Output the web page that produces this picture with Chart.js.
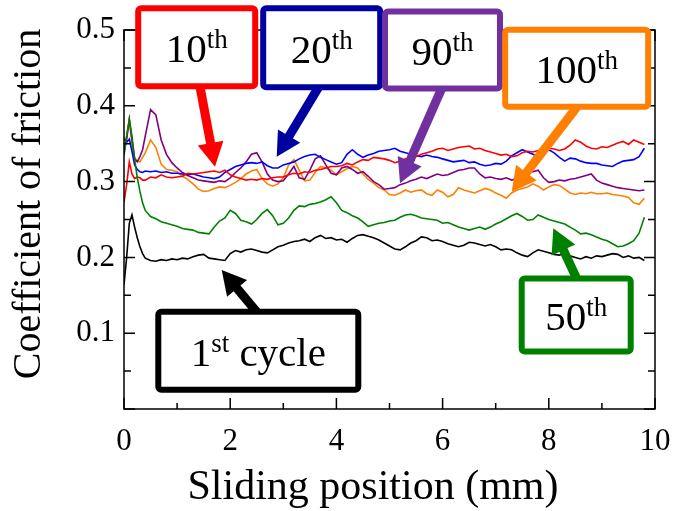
<!DOCTYPE html>
<html>
<head>
<meta charset="utf-8">
<script src="https://cdn.jsdelivr.net/npm/chart.js@4.4.1/dist/chart.umd.min.js"></script>
<style>
  html, body { margin: 0; padding: 0; background: #fff; }
  #wrap { width: 673px; height: 511px; position: relative; }
</style>
</head>
<body>
<div id="wrap"><canvas id="frictionChart"></canvas></div>
<script>
// Sliding positions (mm), shared by every cycle
const positions = [0, 0.05, 0.1, 0.15, 0.2, 0.25, 0.3, 0.35, 0.4,
    0.5, 0.6, 0.7, 0.8, 0.9,
    1.0, 1.1, 1.2, 1.3, 1.4, 1.5, 1.6, 1.7, 1.8, 1.9,
    2.0, 2.1, 2.2, 2.3, 2.4, 2.5, 2.6, 2.7, 2.8, 2.9,
    3.0, 3.1, 3.2, 3.3, 3.4, 3.5, 3.6, 3.7, 3.8, 3.9,
    4.0, 4.1, 4.2, 4.3, 4.4, 4.5, 4.6, 4.7, 4.8, 4.9,
    5.0, 5.1, 5.2, 5.3, 5.4, 5.5, 5.6, 5.7, 5.8, 5.9,
    6.0, 6.1, 6.2, 6.3, 6.4, 6.5, 6.6, 6.7, 6.8, 6.9,
    7.0, 7.1, 7.2, 7.3, 7.4, 7.5, 7.6, 7.7, 7.8, 7.9,
    8.0, 8.1, 8.2, 8.3, 8.4, 8.5, 8.6, 8.7, 8.8, 8.9,
    9.0, 9.1, 9.2, 9.3, 9.4, 9.5, 9.6, 9.7, 9.8];

// Coefficient of friction per cycle
const cycle1 = [0.164, 0.2, 0.245, 0.256, 0.24, 0.226, 0.214, 0.205, 0.199,
    0.196, 0.195, 0.197, 0.196, 0.198,
    0.197, 0.199, 0.198, 0.201, 0.203, 0.204, 0.199, 0.198, 0.197, 0.196,
    0.205, 0.209, 0.207, 0.21, 0.211, 0.209, 0.207, 0.206, 0.21, 0.214,
    0.216, 0.219, 0.221, 0.222, 0.224, 0.221, 0.226, 0.229, 0.225, 0.226,
    0.223, 0.224, 0.22, 0.225, 0.229, 0.23, 0.228, 0.226, 0.223, 0.219,
    0.215, 0.211, 0.21, 0.214, 0.219, 0.222, 0.227, 0.226, 0.222, 0.223,
    0.221, 0.218, 0.216, 0.214, 0.216, 0.22, 0.219, 0.217, 0.215, 0.217,
    0.214, 0.21, 0.211, 0.21, 0.206, 0.203, 0.201, 0.206, 0.21, 0.208,
    0.206, 0.204, 0.203, 0.206, 0.202, 0.2, 0.198, 0.201, 0.199, 0.202,
    0.201, 0.203, 0.205, 0.204, 0.2, 0.202, 0.199, 0.2, 0.196];

const cycle10 = [0.273, 0.296, 0.326, 0.31, 0.304, 0.306, 0.305, 0.302, 0.302,
    0.306, 0.305, 0.309, 0.306, 0.305,
    0.306, 0.307, 0.311, 0.31, 0.311, 0.312, 0.313, 0.314, 0.312, 0.315,
    0.309, 0.306, 0.304, 0.302, 0.303, 0.302, 0.304, 0.303, 0.305, 0.306,
    0.306, 0.309, 0.311, 0.31, 0.313, 0.312, 0.315, 0.316, 0.318, 0.32,
    0.32, 0.321, 0.324, 0.322, 0.326, 0.329, 0.328, 0.332, 0.331, 0.33,
    0.328, 0.325, 0.327, 0.33, 0.331, 0.333, 0.336, 0.338, 0.34, 0.343,
    0.344, 0.341, 0.343, 0.345, 0.346, 0.347, 0.343, 0.344, 0.341, 0.339,
    0.337, 0.335, 0.336, 0.333, 0.334, 0.338, 0.34, 0.339, 0.341, 0.34,
    0.344, 0.343, 0.341, 0.343, 0.348, 0.355, 0.352, 0.347, 0.344, 0.343,
    0.346, 0.345, 0.348, 0.351, 0.353, 0.349, 0.355, 0.352, 0.349];

const cycle20 = [0.357, 0.352, 0.356, 0.34, 0.322, 0.316, 0.313, 0.312, 0.314,
    0.313, 0.314, 0.312, 0.313, 0.311,
    0.311, 0.31, 0.309, 0.31, 0.308, 0.306, 0.305, 0.304, 0.306, 0.312,
    0.316, 0.32, 0.322, 0.324, 0.325, 0.324, 0.326, 0.321, 0.318, 0.318,
    0.322, 0.324, 0.326, 0.33, 0.333, 0.335, 0.336, 0.332, 0.329, 0.326,
    0.323, 0.325, 0.336, 0.342, 0.336, 0.332, 0.335, 0.337, 0.34, 0.341,
    0.342, 0.344, 0.34, 0.338, 0.336, 0.334, 0.333, 0.335, 0.333, 0.332,
    0.33, 0.328, 0.326, 0.327, 0.328, 0.325, 0.326, 0.323, 0.321, 0.322,
    0.324, 0.323, 0.327, 0.334, 0.338, 0.342, 0.339, 0.336, 0.333, 0.337,
    0.342, 0.338, 0.332, 0.327, 0.331, 0.33, 0.327, 0.325, 0.324, 0.324,
    0.322, 0.321, 0.32, 0.324, 0.327, 0.328, 0.329, 0.333, 0.344];

const cycle50 = [0.335, 0.36, 0.382, 0.36, 0.33, 0.305, 0.287, 0.272, 0.262,
    0.254, 0.251, 0.247, 0.245, 0.243,
    0.241, 0.238, 0.237, 0.236, 0.233, 0.232, 0.231, 0.24, 0.248, 0.252,
    0.262, 0.258, 0.249, 0.247, 0.244, 0.25, 0.258, 0.263, 0.255, 0.243,
    0.245, 0.252, 0.262, 0.268, 0.267, 0.27, 0.271, 0.273, 0.276, 0.28,
    0.272, 0.262, 0.259, 0.255, 0.252, 0.247, 0.241, 0.243, 0.245, 0.246,
    0.248, 0.249, 0.253, 0.256, 0.257, 0.255, 0.252, 0.251, 0.25, 0.249,
    0.245, 0.246, 0.243, 0.24, 0.238, 0.236, 0.238, 0.24, 0.237, 0.24,
    0.244, 0.247, 0.251, 0.255, 0.258, 0.254, 0.249, 0.25, 0.256, 0.253,
    0.25, 0.248, 0.246, 0.244, 0.24, 0.236, 0.231, 0.232, 0.23, 0.227,
    0.224, 0.222, 0.218, 0.214, 0.215, 0.218, 0.222, 0.232, 0.253];

const cycle90 = [0.339, 0.355, 0.382, 0.355, 0.33, 0.326, 0.333, 0.342, 0.36,
    0.395, 0.388, 0.355, 0.336, 0.325,
    0.318, 0.312, 0.308, 0.305, 0.302, 0.301, 0.3, 0.299, 0.301, 0.3,
    0.305, 0.312, 0.318, 0.326, 0.336, 0.338, 0.326, 0.31, 0.302, 0.3,
    0.301, 0.31, 0.32, 0.305, 0.303, 0.315, 0.33, 0.334, 0.322, 0.311,
    0.309, 0.318, 0.32, 0.316, 0.311, 0.313, 0.307, 0.3, 0.296, 0.29,
    0.291, 0.292, 0.296, 0.298, 0.301, 0.303, 0.306, 0.304, 0.307, 0.31,
    0.308, 0.309, 0.312, 0.315, 0.316, 0.318, 0.318, 0.31, 0.305, 0.306,
    0.304, 0.303, 0.305, 0.302, 0.304, 0.31, 0.312, 0.313, 0.315, 0.305,
    0.299, 0.3, 0.302, 0.301, 0.303, 0.304, 0.306, 0.308, 0.31, 0.302,
    0.298, 0.296, 0.294, 0.292, 0.291, 0.29, 0.289, 0.288, 0.289];

const cycle100 = [0.345, 0.36, 0.382, 0.35, 0.331, 0.327, 0.326, 0.332, 0.338,
    0.355, 0.345, 0.323, 0.316, 0.315,
    0.313, 0.307, 0.303, 0.297, 0.29, 0.287, 0.288, 0.291, 0.293, 0.292,
    0.295, 0.299, 0.304, 0.31, 0.314, 0.316, 0.304, 0.297, 0.294, 0.297,
    0.305, 0.322, 0.329, 0.315, 0.301, 0.302, 0.312, 0.32, 0.318, 0.315,
    0.309, 0.313, 0.317, 0.32, 0.318, 0.31, 0.303, 0.298, 0.292, 0.289,
    0.283, 0.282, 0.285, 0.289, 0.286, 0.288, 0.289, 0.284, 0.282, 0.289,
    0.286, 0.28, 0.283, 0.292, 0.289, 0.287, 0.285, 0.288, 0.291, 0.289,
    0.285, 0.282, 0.278, 0.285, 0.289, 0.291, 0.293, 0.297, 0.294, 0.289,
    0.293, 0.296, 0.295, 0.29, 0.285, 0.283, 0.285, 0.284, 0.286, 0.284,
    0.284, 0.285, 0.283, 0.282, 0.281, 0.279, 0.272, 0.27, 0.278];

const xTicks = [0, 2, 4, 6, 8, 10];
const yTicks = [0.1, 0.2, 0.3, 0.4, 0.5];

const serif = "'Liberation Serif', 'Times New Roman', serif";

function series(values) {
    return positions.map((x, i) => ({ x: x, y: values[i] }));
}

function lineSet(label, values, color) {
    return {
        label: label,
        data: series(values),
        borderColor: color,
        borderWidth: 1.6,
        pointRadius: 0,
        tension: 0,
        fill: false
    };
}

// Callout boxes: box centre / arrow ends in data units
const callouts = [
    { text: '10', sup: 'th', tail: '', color: '#ff0000', at: [1.369, 0.4773], w: 117, h: 78, from: [1.431, 0.425], to: [1.714, 0.3197] },
    { text: '20', sup: 'th', tail: '', color: '#0000a0', at: [3.723, 0.4765], w: 117, h: 79, from: [3.659, 0.424], to: [2.876, 0.3328] },
    { text: '90', sup: 'th', tail: '', color: '#7030a0', at: [5.998, 0.4736], w: 115, h: 77, from: [5.983, 0.423], to: [5.198, 0.2978] },
    { text: '100', sup: 'th', tail: '', color: '#ff8000', at: [8.525, 0.4495], w: 143, h: 77, from: [8.525, 0.398], to: [7.301, 0.2867] },
    { text: '50', sup: 'th', tail: '', color: '#008000', at: [8.516, 0.124], w: 109, h: 73, from: [8.525, 0.172], to: [8.085, 0.2384] },
    { text: '1', sup: 'st', tail: ' cycle', color: '#000000', at: [2.529, 0.0768], w: 200, h: 78, from: [2.499, 0.128], to: [1.84, 0.1834] }
];

function drawArrow(ctx, x1, y1, x2, y2, color) {
    const dx = x2 - x1, dy = y2 - y1;
    const len = Math.hypot(dx, dy);
    const ux = dx / len, uy = dy / len;
    const headLen = 24, headW = 26;
    const bx = x2 - ux * headLen, by = y2 - uy * headLen;
    ctx.strokeStyle = color;
    ctx.fillStyle = color;
    ctx.lineWidth = 9;
    ctx.lineCap = 'butt';
    ctx.beginPath();
    ctx.moveTo(x1, y1);
    ctx.lineTo(bx + ux, by + uy);
    ctx.stroke();
    ctx.beginPath();
    ctx.moveTo(x2, y2);
    ctx.lineTo(bx - uy * headW / 2, by + ux * headW / 2);
    ctx.lineTo(bx + uy * headW / 2, by - ux * headW / 2);
    ctx.closePath();
    ctx.fill();
}

const decorations = {
    id: 'decorations',
    afterDraw(chart) {
        const { ctx, chartArea: a, scales: { x, y } } = chart;
        ctx.save();

        // frame with inward ticks on all four sides
        ctx.strokeStyle = '#000';
        ctx.lineWidth = 1.5;
        ctx.strokeRect(a.left, a.top, a.right - a.left, a.bottom - a.top);
        ctx.beginPath();
        for (let v = 0; v <= 10; v++) {
            const px = x.getPixelForValue(v);
            const len = v % 2 === 0 ? 11 : 6;
            ctx.moveTo(px, a.bottom); ctx.lineTo(px, a.bottom - len);
            ctx.moveTo(px, a.top); ctx.lineTo(px, a.top + len);
        }
        for (let k = 0; k <= 10; k++) {
            const py = y.getPixelForValue(k * 0.05);
            const len = k % 2 === 0 ? 11 : 7;
            ctx.moveTo(a.left, py); ctx.lineTo(a.left + len, py);
            ctx.moveTo(a.right, py); ctx.lineTo(a.right - len, py);
        }
        ctx.stroke();

        // axis titles
        ctx.fillStyle = '#000';
        ctx.textAlign = 'center';
        ctx.textBaseline = 'middle';
        ctx.font = '42px ' + serif;
        ctx.fillText('Sliding position (mm)', a.left + 249, a.bottom + 79);
        ctx.save();
        ctx.translate(29, a.top + 174);
        ctx.rotate(-Math.PI / 2);
        ctx.font = '40px ' + serif;
        ctx.fillText('Coefficient of friction', 0, 0);
        ctx.restore();

        // callouts
        callouts.forEach(c => {
            drawArrow(ctx,
                x.getPixelForValue(c.from[0]), y.getPixelForValue(c.from[1]),
                x.getPixelForValue(c.to[0]), y.getPixelForValue(c.to[1]), c.color);
        });
        callouts.forEach(c => {
            const cx = x.getPixelForValue(c.at[0]);
            const cy = y.getPixelForValue(c.at[1]);
            ctx.lineWidth = 6;
            ctx.strokeStyle = c.color;
            ctx.fillStyle = '#fff';
            ctx.beginPath();
            ctx.roundRect(cx - c.w / 2, cy - c.h / 2, c.w, c.h, 3);
            ctx.fill();
            ctx.stroke();

            ctx.fillStyle = '#000';
            ctx.textAlign = 'left';
            ctx.textBaseline = 'alphabetic';
            ctx.font = '41px ' + serif;
            const w1 = ctx.measureText(c.text).width;
            const w3 = ctx.measureText(c.tail).width;
            ctx.font = '27px ' + serif;
            const w2 = ctx.measureText(c.sup).width;
            let tx = cx - (w1 + w2 + w3) / 2;
            const base = cy + 15;
            ctx.font = '41px ' + serif;
            ctx.fillText(c.text, tx, base);
            tx += w1;
            ctx.font = '27px ' + serif;
            ctx.fillText(c.sup, tx, base - 14);
            tx += w2;
            ctx.font = '41px ' + serif;
            ctx.fillText(c.tail, tx, base);
        });
        ctx.restore();
    }
};

new Chart(document.getElementById('frictionChart'), {
    type: 'line',
    data: {
        datasets: [
            lineSet('1st', cycle1, '#000000'),
            lineSet('50th', cycle50, '#008000'),
            lineSet('10th', cycle10, '#ff0000'),
            lineSet('20th', cycle20, '#0000ff'),
            lineSet('90th', cycle90, '#800080'),
            lineSet('100th', cycle100, '#ff8000')
        ]
    },
    options: {
        responsive: true,
        maintainAspectRatio: false,
        animation: false,
        layout: { padding: { top: 30, right: 18, left: 0, bottom: 0 } },
        plugins: {
            legend: { display: false },
            tooltip: { enabled: false }
        },
        scales: {
            x: {
                type: 'linear',
                min: 0,
                max: 10,
                afterBuildTicks: s => { s.ticks = xTicks.map(v => ({ value: v })); },
                afterFit: s => { s.height = 102; s.paddingLeft = 0; s.paddingRight = 0; },
                grid: { display: false, drawTicks: false },
                border: { display: false },
                ticks: {
                    color: '#000',
                    font: { family: serif, size: 31 },
                    padding: 14,
                    maxRotation: 0,
                    callback: v => String(v)
                }
            },
            y: {
                min: 0,
                max: 0.5,
                afterBuildTicks: s => { s.ticks = yTicks.map(v => ({ value: v })); },
                afterFit: s => { s.width = 124; s.paddingTop = 0; s.paddingBottom = 0; },
                grid: { display: false, drawTicks: false },
                border: { display: false },
                ticks: {
                    color: '#000',
                    font: { family: serif, size: 31 },
                    padding: 9,
                    callback: v => v.toFixed(1)
                }
            }
        }
    },
    plugins: [decorations]
});
</script>
</body>
</html>
